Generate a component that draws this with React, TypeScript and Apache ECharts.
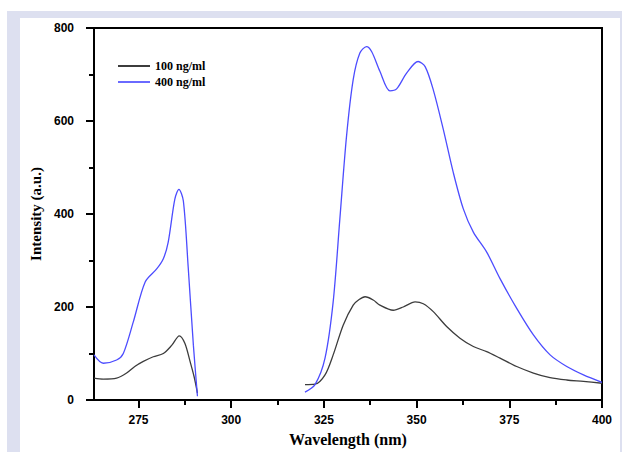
import React, { useEffect, useRef } from "react";
import * as echarts from "echarts";

// 100 ng/ml (black) — two measured segments, separated by a gap
const black1Wl = [263, 265.5, 269.1, 271.8, 274, 276.3, 279, 281.7, 284, 286, 287.5, 288.9, 290, 290.9];
const black1Int = [47, 45, 47, 58, 72, 83, 93, 100, 118, 138, 122, 83, 50, 15];
const black2Wl = [319.9, 322.6, 325.3, 327.5, 330.2, 332.9, 334.5, 336.1, 338.3, 340.1, 343.7, 346.4, 349.6, 351.8, 354.5, 358.1, 361.7, 365.3, 368.9, 372.5, 377, 381.5, 386, 390.5, 395, 400];
const black2Int = [33, 34, 54, 97, 161, 204, 216, 222, 215, 204, 193, 200, 211, 207, 190, 158, 133, 115, 104, 90, 72, 58, 48, 43, 40, 36];

// 400 ng/ml (blue)
const blue1Wl = [263, 265.5, 269.1, 270.9, 273.6, 276.8, 279.9, 281.7, 283, 284.8, 285.9, 287.1, 288.4, 289.8, 290.9];
const blue1Int = [97, 79, 86, 100, 168, 254, 282, 304, 339, 432, 453, 428, 286, 118, 8];
const blue2Wl = [319.9, 322.6, 325.3, 327.5, 329.3, 331.1, 332.9, 334.7, 336.5, 337.9, 340.1, 342.8, 344.6, 347.3, 350.4, 352.3, 354.5, 357.2, 359.9, 362.6, 365.3, 368.9, 372.5, 377, 381.5, 386, 390.5, 395, 400];
const blue2Int = [17, 33, 90, 211, 389, 567, 689, 746, 760, 749, 707, 665, 669, 703, 728, 717, 667, 582, 489, 411, 361, 318, 261, 197, 140, 97, 72, 54, 38];

const seriesNames = ["100 ng/ml", "400 ng/ml"];
const xMajorTicks = [275, 300, 325, 350, 375, 400];
const xMinorTicks = [287.5, 312.5, 337.5, 362.5, 387.5];

function pairs(wl: number[], v: number[]) {
  return wl.map((w, i) => [w, v[i]]);
}
function joinSegments(a: number[][], b: number[][]) {
  return [...a, [305, null], ...b];
}

export default function App() {
  const ref = useRef<HTMLDivElement>(null);
  useEffect(() => {
    if (!ref.current) return;
    const chart = echarts.init(ref.current, null, { renderer: "svg" });
    const tickFont = { fontFamily: "Liberation Sans, Arial, sans-serif", fontWeight: "bold" as const, fontSize: 12, color: "#000" };
    const titleFont = { fontFamily: "Liberation Serif, Times New Roman, serif", fontWeight: "bold" as const, color: "#000" };
    chart.setOption({
      animation: false,
      backgroundColor: "transparent",
      grid: { left: 94, right: 20, top: 28, bottom: 50, show: true, borderColor: "#000", borderWidth: 2, backgroundColor: "#fff" },
      legend: {
        orient: "vertical",
        left: 113,
        top: 55,
        itemWidth: 32,
        itemHeight: 14,
        itemGap: 4,
        data: seriesNames.map((n) => ({ name: n, icon: "path://M0,6 L32,6 L32,8 L0,8 Z" })),
        textStyle: { ...titleFont, fontSize: 12 },
      },
      xAxis: [
        {
          type: "value",
          min: 263,
          max: 400,
          name: "Wavelength (nm)",
          nameLocation: "middle",
          nameGap: 31,
          nameTextStyle: { ...titleFont, fontSize: 16 },
          axisLine: { show: true, onZero: false, lineStyle: { color: "#000", width: 2 } },
          axisTick: { show: true, length: 8, lineStyle: { color: "#000", width: 2 }, customValues: xMajorTicks },
          axisLabel: { ...tickFont, margin: 14, customValues: xMajorTicks },
          splitLine: { show: false },
        },
        {
          type: "value",
          min: 263,
          max: 400,
          position: "bottom",
          axisLine: { show: false, onZero: false },
          axisTick: { show: true, length: 5, lineStyle: { color: "#000", width: 2 }, customValues: xMinorTicks },
          axisLabel: { show: false },
          splitLine: { show: false },
        },
      ],
      yAxis: {
        type: "value",
        min: 0,
        max: 800,
        interval: 200,
        name: "Intensity (a.u.)",
        nameLocation: "middle",
        nameGap: 51,
        nameTextStyle: { ...titleFont, fontSize: 15 },
        axisLine: { show: true, lineStyle: { color: "#000", width: 2 } },
        axisTick: { show: true, length: 8, lineStyle: { color: "#000", width: 2 } },
        minorTick: { show: true, splitNumber: 2, length: 5, lineStyle: { color: "#000", width: 2 } },
        axisLabel: { ...tickFont, margin: 20 },
        splitLine: { show: false },
      },
      series: [
        {
          name: seriesNames[0],
          type: "line",
          data: joinSegments(pairs(black1Wl, black1Int), pairs(black2Wl, black2Int)),
          symbol: "none",
          smooth: 0.3,
          connectNulls: false,
          lineStyle: { color: "#3c3c3c", width: 1.3 },
          itemStyle: { color: "#3c3c3c" },
        },
        {
          name: seriesNames[1],
          type: "line",
          data: joinSegments(pairs(blue1Wl, blue1Int), pairs(blue2Wl, blue2Int)),
          symbol: "none",
          smooth: 0.3,
          connectNulls: false,
          lineStyle: { color: "#4c4cff", width: 1.3 },
          itemStyle: { color: "#6a6aff" },
        },
      ],
    });
    return () => chart.dispose();
  }, []);
  return (
    <div style={{ position: "absolute", left: 0, top: 0, width: 622, height: 452, background: "#fff", overflow: "hidden" }}>
      <div style={{ position: "absolute", left: 7, top: 11, width: 615, height: 441, background: "#dde0f0" }} />
      <div style={{ position: "absolute", left: 20, top: 18, width: 600, height: 434, background: "#fff" }} />
      <div ref={ref} style={{ position: "absolute", left: 0, top: 0, width: 622, height: 452 }} />
    </div>
  );
}
